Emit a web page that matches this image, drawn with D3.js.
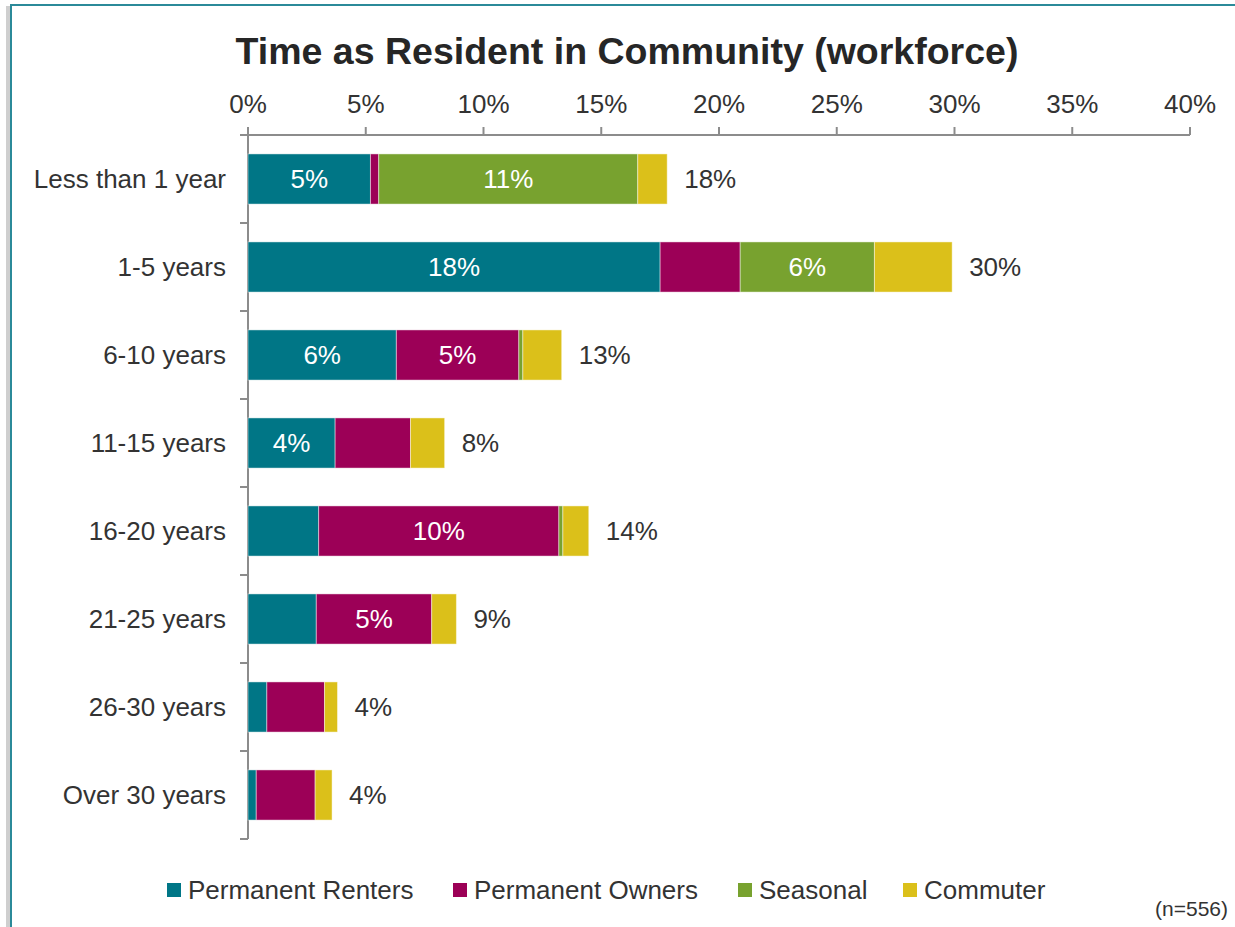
<!DOCTYPE html>
<html>
<head>
<meta charset="utf-8">
<script src="https://cdn.jsdelivr.net/npm/d3@7"></script>
<style>
  body { margin: 0; background: #fff; }
  svg { font-family: "Liberation Sans", Arial, sans-serif; }
</style>
</head>
<body>
<svg width="1235" height="927"></svg>
<script>
// Data (percent of workforce)
var categories = ["Less than 1 year", "1-5 years", "6-10 years", "11-15 years",
                  "16-20 years", "21-25 years", "26-30 years", "Over 30 years"];
var seriesNames = ["Permanent Renters", "Permanent Owners", "Seasonal", "Commuter"];
var renters   = [5.2, 17.5, 6.3, 3.7, 3.0, 2.9, 0.8, 0.35];
var owners    = [0.35, 3.4, 5.2, 3.2, 10.2, 4.9, 2.45, 2.5];
var seasonal  = [11.0, 5.7, 0.17, 0, 0.17, 0, 0, 0];
var commuter  = [1.25, 3.3, 1.65, 1.45, 1.1, 1.05, 0.55, 0.72];
var xTicks = [0, 5, 10, 15, 20, 25, 30, 35, 40];
var colors = ["#007686", "#9c0057", "#78a22f", "#dbc01a"];

var svg = d3.select("svg");

// frame
svg.append("rect")
    .attr("x", 8).attr("y", 8).attr("width", 1240).attr("height", 940)
    .attr("fill", "none").attr("stroke", "#cfcfcf").attr("stroke-width", 4);
svg.append("rect")
    .attr("x", 11).attr("y", 5).attr("width", 1240).attr("height", 940)
    .attr("fill", "#fff").attr("stroke", "#2b8a99").attr("stroke-width", 2);

// table for stacking
var rows = categories.map(function(c, i) {
  return { cat: c, "Permanent Renters": renters[i], "Permanent Owners": owners[i],
           "Seasonal": seasonal[i], "Commuter": commuter[i] };
});
var stacked = d3.stack().keys(seriesNames)(rows);

var x = d3.scaleLinear().domain([0, 40]).range([248, 1190]);
var y = d3.scaleBand().domain(categories).range([135, 839]).paddingInner(0.43).paddingOuter(0.215);

// title
svg.append("text")
    .attr("x", 627).attr("y", 64)
    .attr("text-anchor", "middle")
    .attr("font-size", 37.5).attr("font-weight", "bold").attr("fill", "#262626")
    .text("Time as Resident in Community (workforce)");

// top axis
var axisColor = "#8c8c8c";
var gx = svg.append("g").attr("transform", "translate(0,135)");
gx.append("line").attr("x1", 248).attr("x2", 1190)
    .attr("stroke", axisColor).attr("stroke-width", 2);
gx.selectAll(".tk").data(xTicks).enter().append("line")
    .attr("x1", function(d) { return x(d); }).attr("x2", function(d) { return x(d); })
    .attr("y1", 0).attr("y2", -8)
    .attr("stroke", axisColor).attr("stroke-width", 2);
gx.selectAll(".tl").data(xTicks).enter().append("text")
    .attr("x", function(d) { return x(d); }).attr("y", -22)
    .attr("text-anchor", "middle")
    .attr("font-size", 26).attr("fill", "#333")
    .text(function(d) { return d + "%"; });

// left axis
var bounds = categories.map(function(c) { return y(c) - y.step() * y.paddingInner() / 2; });
bounds.push(839);
var gy = svg.append("g");
gy.append("line").attr("x1", 248).attr("x2", 248).attr("y1", 135).attr("y2", 839)
    .attr("stroke", axisColor).attr("stroke-width", 2);
gy.selectAll(".tk").data(bounds).enter().append("line")
    .attr("x1", 240).attr("x2", 248)
    .attr("y1", function(d) { return d; }).attr("y2", function(d) { return d; })
    .attr("stroke", axisColor).attr("stroke-width", 2);
gy.selectAll(".cl").data(categories).enter().append("text")
    .attr("x", 226).attr("y", function(d) { return y(d) + y.bandwidth() / 2 + 9; })
    .attr("text-anchor", "end")
    .attr("font-size", 26).attr("fill", "#333")
    .text(function(d) { return d; });

// bars
var layers = svg.append("g").selectAll("g").data(stacked).enter().append("g")
    .attr("fill", function(d, i) { return colors[i]; });
layers.selectAll("rect").data(function(d) { return d; }).enter().append("rect")
    .attr("x", function(d) { return x(d[0]); })
    .attr("y", function(d) { return y(d.data.cat); })
    .attr("width", function(d) { return Math.max(0, x(d[1]) - x(d[0])); })
    .attr("height", y.bandwidth())
    .attr("stroke", "rgba(255,255,255,0.45)").attr("stroke-width", 1);

// segment labels (only big segments)
layers.selectAll("text").data(function(d) { return d; }).enter()
    .filter(function(d) { return d[1] - d[0] >= 3.5; })
    .append("text")
    .attr("x", function(d) { return (x(d[0]) + x(d[1])) / 2; })
    .attr("y", function(d) { return y(d.data.cat) + y.bandwidth() / 2 + 9; })
    .attr("text-anchor", "middle")
    .attr("font-size", 26).attr("fill", "#fff")
    .text(function(d) { return Math.round(d[1] - d[0]) + "%"; });

// totals
var last = stacked[stacked.length - 1];
svg.append("g").selectAll("text").data(last).enter().append("text")
    .attr("x", function(d) { return x(d[1]) + 17; })
    .attr("y", function(d) { return y(d.data.cat) + y.bandwidth() / 2 + 9; })
    .attr("font-size", 26).attr("fill", "#333")
    .text(function(d) { return Math.round(d[1]) + "%"; });

// legend
var legX = [167, 453, 738, 903];
var leg = svg.append("g").selectAll("g").data(seriesNames).enter().append("g")
    .attr("transform", function(d, i) { return "translate(" + legX[i] + ",883)"; });
leg.append("rect").attr("width", 14).attr("height", 14)
    .attr("fill", function(d, i) { return colors[i]; });
leg.append("text").attr("x", 21).attr("y", 16)
    .attr("font-size", 26).attr("fill", "#333")
    .text(function(d) { return d; });

// sample size
svg.append("text")
    .attr("x", 1228).attr("y", 916).attr("text-anchor", "end")
    .attr("font-size", 21).attr("fill", "#333")
    .text("(n=556)");
</script>
</body>
</html>
